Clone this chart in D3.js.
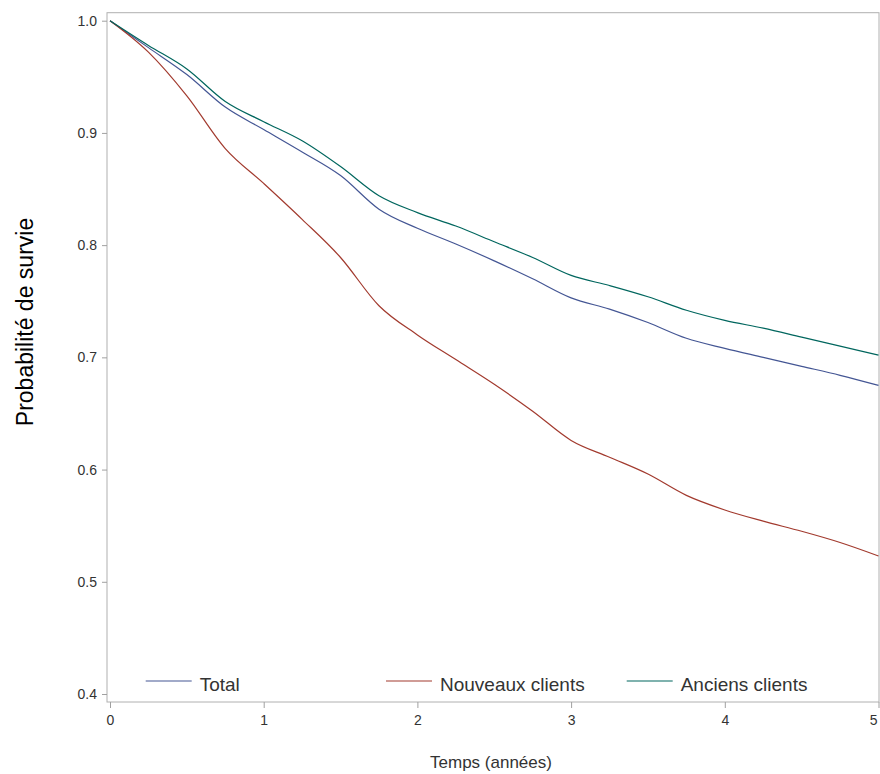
<!DOCTYPE html>
<html>
<head>
<meta charset="utf-8">
<script src="https://cdn.jsdelivr.net/npm/d3@7"></script>
<style>
  body { margin: 0; background: #fff; }
  svg { display: block; }
  .tick text { font-family: "Liberation Sans", Arial, sans-serif; font-size: 14px; fill: #333; }
</style>
</head>
<body>
<svg id="chart"></svg>
<script>
// time in years (read every quarter year)
const times = [0, 0.25, 0.5, 0.75, 1, 1.25, 1.5, 1.75, 2, 2.25, 2.5, 2.75, 3, 3.25, 3.5, 3.75, 4, 4.25, 4.5, 4.75, 5];

const total = [1.0, 0.976, 0.952, 0.923, 0.903, 0.883, 0.862, 0.832, 0.815, 0.801, 0.786, 0.770, 0.753, 0.743, 0.731, 0.717, 0.708, 0.700, 0.692, 0.684, 0.675];
const nouveaux = [1.0, 0.972, 0.933, 0.886, 0.855, 0.823, 0.789, 0.746, 0.720, 0.698, 0.676, 0.652, 0.626, 0.611, 0.596, 0.577, 0.564, 0.554, 0.545, 0.535, 0.523];
const anciens = [1.0, 0.978, 0.957, 0.928, 0.910, 0.893, 0.870, 0.844, 0.829, 0.817, 0.803, 0.789, 0.773, 0.764, 0.754, 0.742, 0.733, 0.726, 0.718, 0.710, 0.702];

const seriesNames = ["Total", "Nouveaux clients", "Anciens clients"];
const seriesColors = ["#445694", "#A23A2E", "#01665E"];

const xTicks = [0, 1, 2, 3, 4, 5];
const yTicks = [0.4, 0.5, 0.6, 0.7, 0.8, 0.9, 1.0];

const W = 880, H = 774;

const svg = d3.select("#chart").attr("width", W).attr("height", H);

const x = d3.scaleLinear().domain([0, 5]).range([110, 878.5]);
const y = d3.scaleLinear().domain([0.4, 1.0]).range([694, 20.7]);

// plot frame
const fx0 = x(0) - 3, fx1 = x(5) + 0.5, fy0 = y(1.0) - 8, fy1 = y(0.4) + 8;
svg.append("rect")
    .attr("x", fx0).attr("y", fy0)
    .attr("width", fx1 - fx0).attr("height", fy1 - fy0)
    .attr("fill", "none")
    .attr("stroke", "#b0b0b0")
    .attr("stroke-width", 1);

// axes
const xAxis = svg.append("g")
    .attr("transform", `translate(0,${fy1})`)
    .call(d3.axisBottom(x).tickValues(xTicks).tickFormat(d3.format("d")).tickSize(6).tickPadding(7));
xAxis.select(".domain").remove();
xAxis.selectAll(".tick line").attr("stroke", "#a0a0a0");
// last label sits at the right edge of the page
xAxis.selectAll(".tick text").filter(d => d === 5)
    .attr("text-anchor", "end").attr("dx", -1.5);

const yAxis = svg.append("g")
    .attr("transform", `translate(${fx0},0)`)
    .call(d3.axisLeft(y).tickValues(yTicks).tickFormat(d3.format(".1f")).tickSize(5).tickPadding(5));
yAxis.select(".domain").remove();
yAxis.selectAll(".tick line").attr("stroke", "#a0a0a0");

// axis titles
svg.append("text")
    .attr("x", (fx0 + fx1) / 2 - 2)
    .attr("y", 768)
    .attr("text-anchor", "middle")
    .attr("font-family", "Liberation Sans, Arial, sans-serif")
    .attr("font-size", 17)
    .attr("fill", "#333")
    .text("Temps (années)");

svg.append("text")
    .attr("transform", `translate(33,322) rotate(-90)`)
    .attr("text-anchor", "middle")
    .attr("font-family", "Liberation Sans, Arial, sans-serif")
    .attr("font-size", 23)
    .attr("fill", "#000")
    .text("Probabilité de survie");

// curves
const seriesData = [total, nouveaux, anciens];
const line = d3.line()
    .x((d, i) => x(times[i]))
    .y(d => y(d))
    .curve(d3.curveMonotoneX);

svg.append("g")
    .selectAll("path")
    .data(seriesData)
    .join("path")
    .attr("d", d => line(d))
    .attr("fill", "none")
    .attr("stroke", (d, i) => seriesColors[i])
    .attr("stroke-width", 1.2);

// legend
const legendX = [145.7, 386, 626.7];
const legendY = 681;
const lg = svg.append("g").selectAll("g")
    .data(seriesNames)
    .join("g")
    .attr("transform", (d, i) => `translate(${legendX[i]},${legendY})`);
lg.append("line")
    .attr("x1", 0).attr("x2", 46)
    .attr("y1", 0).attr("y2", 0)
    .attr("stroke", (d, i) => seriesColors[i])
    .attr("stroke-width", 1.2);
lg.append("text")
    .attr("x", 54)
    .attr("y", 10)
    .attr("font-family", "Liberation Sans, Arial, sans-serif")
    .attr("font-size", 19)
    .attr("fill", "#333")
    .text(d => d);
</script>
</body>
</html>
